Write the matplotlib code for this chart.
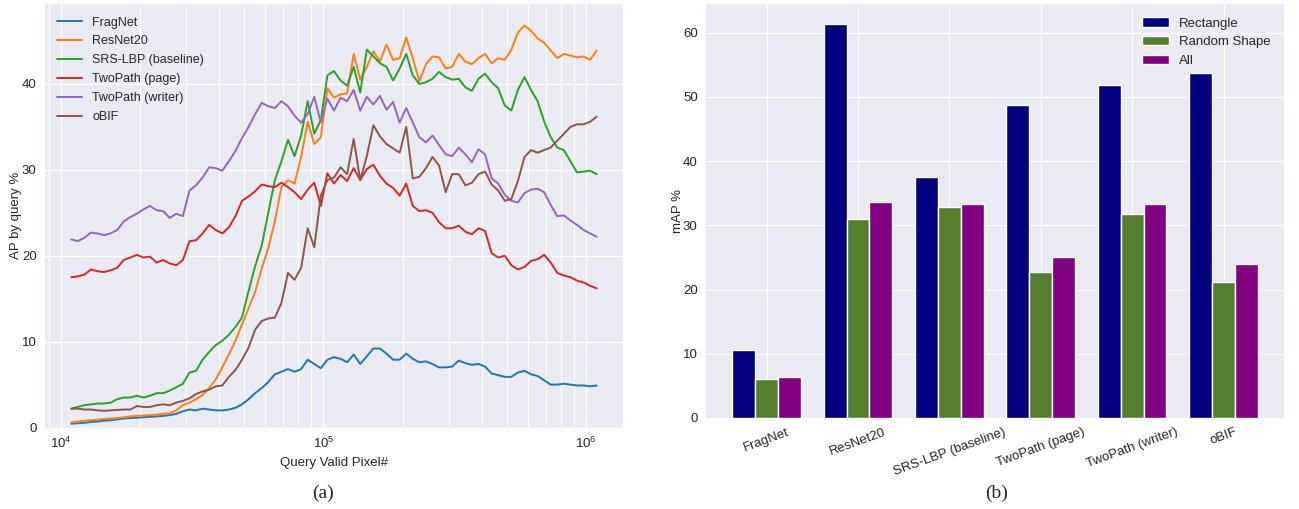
import numpy as np
import matplotlib
matplotlib.use("Agg")
import matplotlib.pyplot as plt

plt.style.use("seaborn-v0_8-darkgrid")
plt.rcParams["font.family"] = ["Liberation Sans", "DejaVu Sans"]
plt.rcParams["mathtext.fontset"] = "custom"
plt.rcParams["mathtext.rm"] = "Liberation Sans"
plt.rcParams["mathtext.it"] = "Liberation Sans:italic"

# ---- (a) AP by query vs. query size (log10 of valid pixel count) ----
log_pixels = np.arange(81) * 0.025 + 4.04

fragnet = [0.45, 0.5, 0.55, 0.65, 0.7, 0.8, 0.85, 0.95, 1.05, 1.1,
           1.15, 1.2, 1.25, 1.3, 1.35, 1.45, 1.6, 1.9, 2.1, 2.0,
           2.2, 2.1, 2.0, 2.0, 2.1, 2.3, 2.7, 3.3, 4.0, 4.6,
           5.3, 6.2, 6.5, 6.8, 6.5, 6.8, 7.9, 7.4, 6.9, 7.9,
           8.2, 8.0, 7.6, 8.5, 7.4, 8.3, 9.2, 9.2, 8.6, 7.9,
           7.9, 8.6, 8.0, 7.6, 7.7, 7.4, 7.0, 7.0, 7.1, 7.8,
           7.5, 7.3, 7.4, 7.1, 6.3, 6.1, 5.9, 5.9, 6.4, 6.6,
           6.2, 6.0, 5.5, 5.0, 5.0, 5.1, 5.0, 4.9, 4.9, 4.8, 4.9]

resnet20 = [0.6, 0.7, 0.8, 0.85, 0.9, 1.0, 1.05, 1.1, 1.2, 1.3,
            1.35, 1.4, 1.45, 1.5, 1.6, 1.65, 2.0, 2.6, 2.9, 3.3,
            3.8, 4.6, 5.6, 7.0, 8.5, 10.1, 12.0, 13.9, 15.8, 18.5,
            20.9, 24.0, 28.0, 28.8, 28.4, 31.5, 35.6, 33.0, 33.8, 39.5,
            38.4, 38.8, 38.9, 43.5, 40.5, 42.0, 43.8, 42.6, 44.6, 42.8,
            43.0, 45.4, 43.0, 40.3, 42.3, 43.2, 43.1, 41.8, 42.0, 43.5,
            42.6, 42.3, 43.0, 43.5, 42.4, 43.0, 42.8, 44.0, 46.0, 46.8,
            46.2, 45.3, 44.8, 43.9, 43.0, 43.5, 43.3, 43.1, 43.2, 42.8, 43.9]

srs_lbp = [2.2, 2.4, 2.6, 2.7, 2.8, 2.8, 2.9, 3.3, 3.5, 3.5,
           3.7, 3.5, 3.7, 4.0, 4.0, 4.3, 4.7, 5.1, 6.4, 6.6,
           7.9, 8.8, 9.6, 10.1, 10.8, 11.7, 12.8, 15.9, 18.8, 21.2,
           25.0, 28.8, 31.0, 33.5, 31.6, 34.0, 38.0, 34.2, 35.8, 41.0,
           41.5, 40.4, 39.8, 42.0, 39.0, 44.0, 43.2, 42.4, 42.0, 40.4,
           41.8, 43.5, 41.0, 40.0, 40.2, 40.6, 41.4, 40.8, 40.5, 40.6,
           39.6, 39.2, 40.6, 41.2, 40.2, 39.5, 37.5, 36.9, 39.3, 40.8,
           39.3, 38.0, 35.6, 33.8, 32.6, 32.3, 31.0, 29.7, 29.8, 29.9, 29.5]

twopath_page = [17.5, 17.6, 17.8, 18.4, 18.2, 18.1, 18.3, 18.6, 19.5, 19.8,
                20.1, 19.8, 19.9, 19.2, 19.5, 19.1, 18.9, 19.5, 21.7, 21.8,
                22.6, 23.6, 23.0, 22.6, 23.3, 24.6, 26.4, 26.9, 27.5, 28.3,
                28.1, 28.0, 28.5, 28.0, 27.4, 26.6, 27.7, 28.5, 25.8, 29.6,
                28.4, 29.4, 28.7, 30.2, 28.8, 30.1, 30.6, 29.3, 28.4, 27.9,
                27.0, 28.4, 25.8, 25.2, 25.3, 25.0, 23.9, 23.2, 23.2, 23.5,
                22.8, 22.5, 23.2, 22.9, 20.3, 19.8, 20.0, 18.9, 18.4, 18.7,
                19.4, 19.6, 20.1, 19.2, 18.0, 17.7, 17.5, 17.1, 16.9, 16.5, 16.2]

twopath_writer = [21.9, 21.7, 22.1, 22.7, 22.6, 22.4, 22.6, 23.0, 24.0, 24.5,
                  24.9, 25.4, 25.8, 25.3, 25.2, 24.4, 24.9, 24.6, 27.6, 28.2,
                  29.1, 30.3, 30.2, 29.9, 31.0, 32.2, 33.7, 35.0, 36.5, 37.8,
                  37.4, 37.2, 38.0, 37.4, 36.3, 35.5, 36.5, 38.5, 35.5, 38.3,
                  36.9, 38.4, 38.0, 39.3, 36.9, 38.5, 37.6, 38.6, 37.0, 37.9,
                  35.5, 37.2, 35.5, 33.8, 33.2, 34.0, 32.9, 31.8, 31.6, 32.6,
                  31.8, 30.9, 32.4, 31.8, 29.0, 28.4, 27.1, 26.4, 26.2, 27.3,
                  27.7, 27.8, 27.4, 25.9, 24.6, 24.7, 24.1, 23.6, 23.0, 22.6, 22.2]

obif = [2.2, 2.2, 2.1, 2.1, 2.0, 1.95, 2.0, 2.05, 2.1, 2.1,
        2.5, 2.4, 2.4, 2.6, 2.7, 2.6, 2.9, 3.1, 3.4, 3.9,
        4.2, 4.4, 4.8, 4.9, 5.9, 6.7, 7.9, 9.3, 11.4, 12.4,
        12.7, 12.8, 14.5, 18.0, 17.2, 18.6, 23.2, 21.0, 27.0, 28.8,
        29.1, 30.3, 29.5, 33.6, 28.8, 31.6, 35.2, 33.9, 33.0, 32.5,
        32.0, 35.0, 29.0, 29.2, 30.2, 31.5, 30.5, 27.4, 29.5, 29.5,
        28.2, 28.5, 29.5, 29.8, 28.3, 27.6, 26.4, 26.6, 28.7, 31.5,
        32.3, 32.0, 32.3, 32.6, 33.4, 34.2, 35.0, 35.3, 35.3, 35.6, 36.2]

line_names = ["FragNet", "ResNet20", "SRS-LBP (baseline)",
              "TwoPath (page)", "TwoPath (writer)", "oBIF"]
line_values = [fragnet, resnet20, srs_lbp, twopath_page, twopath_writer, obif]
line_colors = ["#1f77b4", "#ff7f0e", "#2ca02c", "#d62728", "#9467bd", "#8c564b"]

# ---- (b) mAP per method and query shape ----
methods = ["FragNet", "ResNet20", "SRS-LBP (baseline)",
           "TwoPath (page)", "TwoPath (writer)", "oBIF"]
rectangle = [10.5, 61.4, 37.6, 48.8, 51.9, 53.8]
random_shape = [6.0, 31.0, 32.8, 22.8, 31.7, 21.1]
all_queries = [6.4, 33.6, 33.3, 25.1, 33.4, 24.0]
bar_names = ["Rectangle", "Random Shape", "All"]
bar_colors = ["#000080", "#557f2d", "#800080"]

fig = plt.figure(figsize=(12.99, 5.09), dpi=100)
fig.patch.set_facecolor("white")

ax1 = fig.add_axes([0.0346, 0.160, 0.445, 0.832])
pixels = 10.0 ** log_pixels
for name, vals, col in zip(line_names, line_values, line_colors):
    ax1.plot(pixels, vals, color=col, lw=1.4, label=name)
ax1.set_xscale("log")
ax1.set_ylim(0, 49.3)
ax1.set_yticks([0, 10, 20, 30, 40])
ax1.grid(which="major", color="white", lw=1.0)
ax1.grid(which="minor", color="white", lw=0.8)
ax1.tick_params(axis="both", which="both", labelsize=9.5, length=0, pad=6)
ax1.set_xlabel("Query Valid Pixel#", fontsize=9.5, labelpad=4)
ax1.set_ylabel("AP by query %", fontsize=9.5, labelpad=0)
ax1.legend(loc="upper left", frameon=False, fontsize=9, handlelength=2.0,
           labelspacing=0.55, borderaxespad=0.6)

ax2 = fig.add_axes([0.5435, 0.179, 0.445, 0.813])
pos = np.arange(len(methods))
width = 0.25
for k, (name, vals, col) in enumerate(zip(bar_names,
                                          [rectangle, random_shape, all_queries],
                                          bar_colors)):
    ax2.bar(pos + (k - 1) * width, vals, width, color=col, edgecolor="white",
            lw=1.0, label=name)
ax2.set_xticks(pos)
ax2.set_xticklabels(methods, rotation=20, ha="center")
ax2.set_yticks([0, 10, 20, 30, 40, 50, 60])
ax2.tick_params(axis="both", which="both", labelsize=9.5, length=0, pad=6)
ax2.set_ylabel("mAP %", fontsize=9.5, labelpad=-1)
ax2.legend(loc="upper right", frameon=False, fontsize=9.5, handlelength=2.0,
           labelspacing=0.5, borderaxespad=0.6)

fig.text(0.2487, 0.031, "(a)", ha="center", va="center", fontsize=14,
         family="Liberation Serif")
fig.text(0.7675, 0.031, "(b)", ha="center", va="center", fontsize=14,
         family="Liberation Serif")

fig.savefig("out.png", dpi=100, facecolor="white")
